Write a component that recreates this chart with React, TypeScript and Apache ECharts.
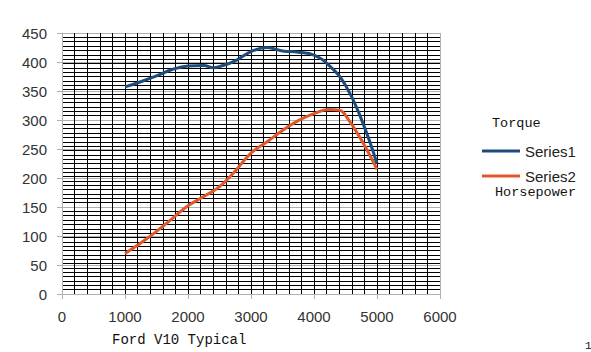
import React, { useEffect, useRef } from "react";
import * as echarts from "echarts";

const torqueRpm = [1000, 1250, 1500, 1750, 2000, 2250, 2400, 2500, 2750, 3000, 3250, 3500, 3750, 4000, 4250, 4500, 4750, 5000];
const torque = [357, 366, 376, 387, 393, 394, 390, 392, 402, 418, 425, 419, 417, 412, 393, 360, 302, 225];
const hpRpm = [1000, 1250, 1500, 1750, 2000, 2250, 2500, 2750, 3000, 3250, 3500, 3750, 4000, 4250, 4400, 4500, 4750, 5000];
const hp = [70, 88, 108, 130, 152, 168, 185, 212, 243, 262, 282, 299, 311, 318, 317, 308, 266, 215];
const seriesNames = ["Series1", "Series2"];
const title = "Ford V10 Typical";
const legendNotes = ["Torque", "Horsepower"];

export default function App() {
  const ref = useRef<HTMLDivElement>(null);
  useEffect(() => {
    if (!ref.current) return;
    const chart = echarts.init(ref.current, null, { renderer: "svg" });
    const gray = "#b0b0b0";
    const minorYColors = Array.from({ length: 20 }, (_, i) => (i === 0 ? "rgba(0,0,0,0)" : "#000"));
    const minorXColors = Array.from({ length: 31 }, (_, i) => (i === 30 ? gray : "#000"));
    const labelFont = { fontFamily: "Liberation Sans, Arial", fontSize: 15, color: "#333" };
    const mono = "Liberation Mono, Courier New, monospace";
    chart.setOption({
      animation: false,
      backgroundColor: "#fff",
      grid: { left: 62, top: 33, width: 378, height: 261 },
      xAxis: [
        {
          type: "value", min: 0, max: 6000, interval: 1000,
          axisLine: { show: true, lineStyle: { color: gray, width: 1 } },
          axisTick: { show: true, length: 5, lineStyle: { color: gray } },
          axisLabel: { ...labelFont, margin: 15, formatter: (v: number) => String(v) },
          splitLine: { show: false },
        },
        {
          type: "value", min: 0, max: 6000, interval: 200, position: "bottom",
          axisLine: { show: false }, axisTick: { show: false }, axisLabel: { show: false },
          splitLine: { show: true, lineStyle: { color: minorXColors, width: 1 } },
        },
      ],
      yAxis: [
        {
          type: "value", min: 0, max: 450, interval: 50,
          axisLine: { show: true, lineStyle: { color: gray, width: 1 } },
          axisTick: { show: true, length: 5, lineStyle: { color: gray } },
          axisLabel: { ...labelFont, margin: 15, formatter: (v: number) => String(v) },
          splitLine: { show: true, lineStyle: { color: gray, width: 1 } },
        },
        {
          type: "value", min: 0, max: 450, interval: 7.5, position: "left",
          axisLine: { show: false }, axisTick: { show: false }, axisLabel: { show: false },
          splitLine: { show: true, lineStyle: { color: minorYColors, width: 1 } },
        },
      ],
      legend: {
        orient: "vertical", left: 477, top: 138,
        itemWidth: 38, itemHeight: 3, itemGap: 9, icon: "rect",
        data: seriesNames,
        textStyle: { fontFamily: "Liberation Sans, Arial", fontSize: 15, color: "#222", lineHeight: 16 },
      },
      series: [
        {
          name: seriesNames[0], type: "line", smooth: 0.45, showSymbol: false, symbol: "none",
          data: torqueRpm.map((x, i) => [x, torque[i]]),
          lineStyle: { color: "#1d4c7c", width: 3 }, itemStyle: { color: "#1d4c7c" }, z: 5,
        },
        {
          name: seriesNames[1], type: "line", smooth: 0.45, showSymbol: false, symbol: "none",
          data: hpRpm.map((x, i) => [x, hp[i]]),
          lineStyle: { color: "#e0582a", width: 3 }, itemStyle: { color: "#e0582a" }, z: 4,
        },
      ],
      graphic: [
        { type: "text", x: 112, y: 340, style: { text: title, font: `14px ${mono}`, fill: "#111", verticalAlign: "middle" } },
        { type: "text", x: 492, y: 123.5, style: { text: legendNotes[0], font: `13.5px ${mono}`, fill: "#111", verticalAlign: "middle" } },
        { type: "text", x: 495, y: 192, style: { text: legendNotes[1], font: `13.5px ${mono}`, fill: "#111", verticalAlign: "middle" } },
        { type: "text", x: 585, y: 346, style: { text: "1", font: `11px ${mono}`, fill: "#111", verticalAlign: "middle" } },
      ],
    });
    return () => chart.dispose();
  }, []);
  return <div ref={ref} style={{ position: "absolute", left: 0, top: 0, width: 591, height: 352 }} />;
}
